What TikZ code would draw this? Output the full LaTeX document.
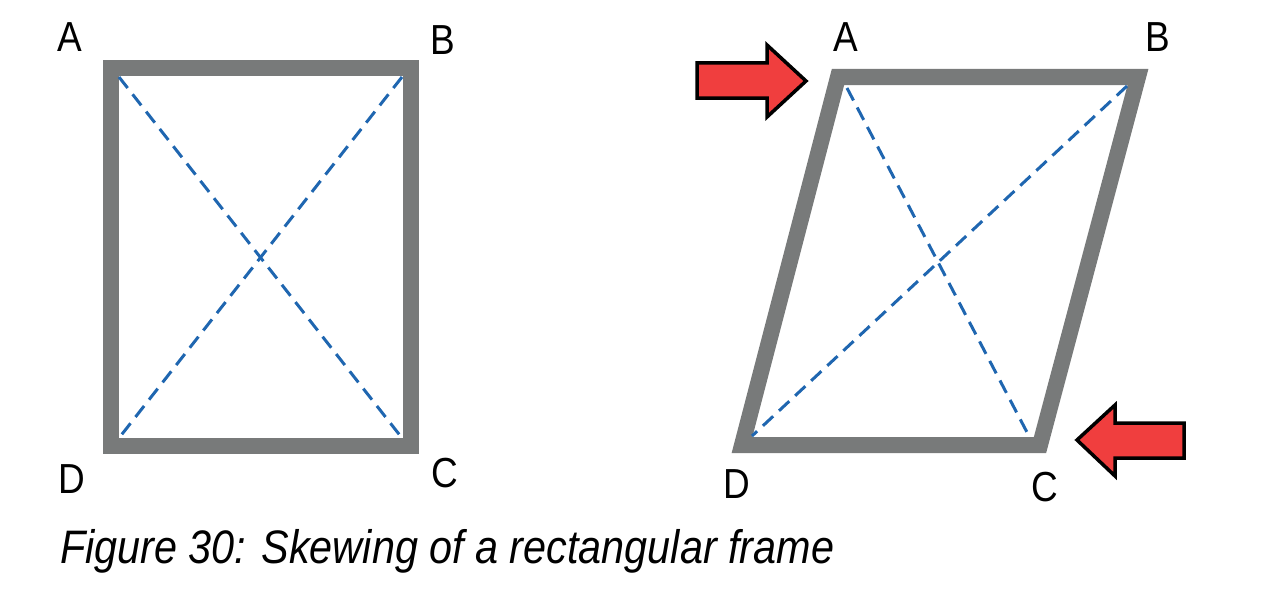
\documentclass[tikz,border=0pt]{standalone}
\usepackage{fontspec}
\setmainfont{Liberation Sans}[FakeStretch=0.88]
\definecolor{framegray}{HTML}{787A7A}
\definecolor{diagblue}{HTML}{1F66B0}
\definecolor{arrowred}{HTML}{F03E3E}
\begin{document}
\begin{tikzpicture}[x=1pt,y=-1pt,
  frame/.style={draw=framegray,line width=16pt,line join=miter},
  diag/.style={draw=diagblue,line width=3pt,dash pattern=on 14pt off 8pt},
  lbl/.style={inner sep=0pt,font=\fontsize{42}{50}\selectfont},
  redarrow/.style={fill=arrowred,draw=black,line width=3.5pt,line join=miter}]
\useasboundingbox (0,0) rectangle (1282,594);
% left rectangle
\coordinate (lA) at (111,68);
\coordinate (lB) at (411,68);
\coordinate (lC) at (411,446);
\coordinate (lD) at (111,446);
\draw[frame] (lA) -- (lB) -- (lC) -- (lD) -- cycle;
\coordinate (liA) at (119,77);
\coordinate (liB) at (402,77);
\coordinate (liC) at (402,438);
\coordinate (liD) at (119,438);
\draw[diag] (liA) -- (liC);
\draw[diag] (liB) -- (liD);
\node[lbl] (tA) at (70,37) {A};
\node[lbl] (tB) at (443,40) {B};
\node[lbl] (tC) at (445,473) {C};
\node[lbl] (tD) at (72,479) {D};
% parallelogram
\coordinate (rA) at (838,77);
\coordinate (rB) at (1138,77);
\coordinate (rC) at (1040,445);
\coordinate (rD) at (742,445);
\draw[frame] (rA) -- (rB) -- (rC) -- (rD) -- cycle;
\coordinate (riA) at (847,88);
\coordinate (riB) at (1127,86);
\coordinate (riC) at (1030,438);
\coordinate (riD) at (752,436);
\draw[diag] (riA) -- (riC);
\draw[diag] (riB) -- (riD);
\node[lbl] (uA) at (846,37) {A};
\node[lbl] (uB) at (1158,37) {B};
\node[lbl] (uC) at (1045,487) {C};
\node[lbl] (uD) at (737,484) {D};
% arrows
\draw[redarrow] (697,63) -- (767,63) -- (767,45) -- (806,81) -- (767,117) -- (767,98) -- (697,98) -- cycle;
\draw[redarrow] (1184,423) -- (1115,423) -- (1115,405) -- (1077,440) -- (1115,476) -- (1115,458) -- (1184,458) -- cycle;
% caption
\node[inner sep=0pt,anchor=base west,font=\fontsize{47}{56}\selectfont\itshape] (cap) at (60,563) {Figure 30: Skewing of a rectangular frame};
\end{tikzpicture}
\end{document}
